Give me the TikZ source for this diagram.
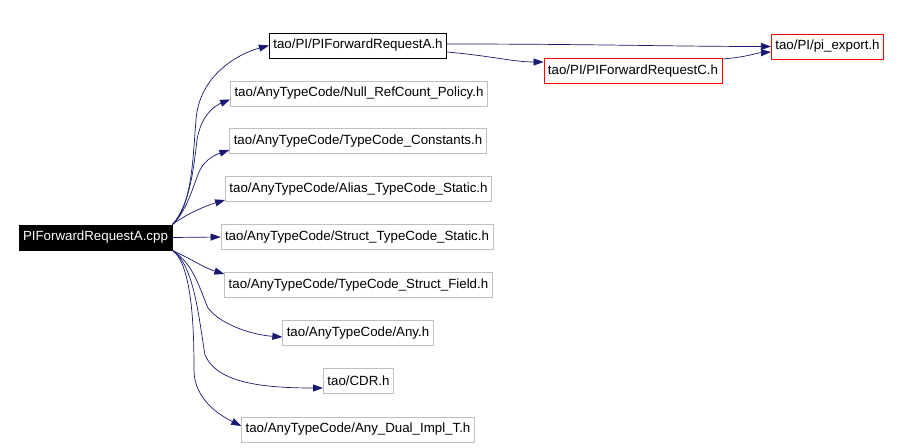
\documentclass[tikz,border=0pt]{standalone}
\usepackage{fontspec}
\setmainfont{Liberation Sans}
\usetikzlibrary{arrows.meta}

\definecolor{edgeblue}{RGB}{25,25,112}
\definecolor{boxgray}{RGB}{191,191,191}

\tikzset{
  file/.style={draw=boxgray, line width=0.8pt, minimum height=25pt, inner xsep=4pt,
    font=\fontsize{13.3}{15}\selectfont},
  hdr/.style={file, draw=black},
  missing/.style={file, draw=red},
  src/.style={file, draw=black, fill=black, text=white},
  dep/.style={draw=edgeblue, line width=0.7pt, -{Triangle[length=10pt,width=7pt]}},
}

\begin{document}
\begin{tikzpicture}[x=1pt, y=-1pt]
        \useasboundingbox (0,0) rectangle (902,447);

        \node[src] (main) at (95.5,237.5) {PIForwardRequestA.cpp};

        \node[hdr] (reqA) at (358,45.5) {tao/PI/PIForwardRequestA.h};
        \node[missing] (reqC) at (633,71) {tao/PI/PIForwardRequestC.h};
        \node[missing] (export) at (827.5,46.5) {tao/PI/pi\_export.h};

        \node[file] (nullref) at (359,93.5) {tao/AnyTypeCode/Null\_RefCount\_Policy.h};
        \node[file] (tcconst) at (358,141) {tao/AnyTypeCode/TypeCode\_Constants.h};
        \node[file] (alias) at (358.5,189) {tao/AnyTypeCode/Alias\_TypeCode\_Static.h};
        \node[file] (structtc) at (357,237) {tao/AnyTypeCode/Struct\_TypeCode\_Static.h};
        \node[file] (field) at (358.5,285) {tao/AnyTypeCode/TypeCode\_Struct\_Field.h};
        \node[file] (any) at (358,333) {tao/AnyTypeCode/Any.h};
        \node[file] (cdr) at (358.5,381) {tao/CDR.h};
        \node[file] (dual) at (358,429.5) {tao/AnyTypeCode/Any\_Dual\_Impl\_T.h};

        % upper fan
        \draw[dep] (main.north east) .. controls +(20,-18) and +(-3,35) .. (196,120)
            .. controls +(3,-45) and +(-30,8) .. (reqA.west);
        \draw[dep] (main.north east) .. controls +(18,-20) and +(-3,25) .. (197,140)
            .. controls +(4,-25) and +(-15,6) .. ([yshift=-6pt]nullref.west);
        \draw[dep] (main.north east) .. controls +(16,-15) and +(-6,12) .. (200,170)
            .. controls +(6,-12) and +(-12,4) .. ([yshift=-9pt]tcconst.west);
        \draw[dep] (main.north east) .. controls +(13,-10) and +(-20,6) .. ([yshift=-11pt]alias.west);
        \draw[dep] (main.east) -- (structtc.west);

        % lower fan
        \draw[dep] (main.south east) .. controls +(18,8) and +(-20,-6) .. ([yshift=11pt]field.west);
        \draw[dep] (main.south east) .. controls +(22,14) and +(-8,-18) .. (208,308)
            .. controls +(14,18) and +(-28,-2) .. ([yshift=-4pt]any.west);
        \draw[dep] (main.south east) .. controls +(22,14) and +(-6,-35) .. (205,355)
            .. controls +(12,28) and +(-60,0) .. ([yshift=-7pt]cdr.west);
        \draw[dep] (main.south east) .. controls +(20,14) and +(0,-40) .. (194,370)
            .. controls +(0,30) and +(-20,-10) .. ([yshift=3.5pt]dual.west);

        % PI headers
        \draw[dep] ([yshift=1.5pt]reqA.east) .. controls +(150,0) and +(-100,0) .. (export.west);
        \draw[dep] ([yshift=-6.5pt]reqA.east) .. controls +(45,4) and +(-30,0) .. ([yshift=9pt]reqC.west);
        \draw[dep] ([yshift=12pt]reqC.east) .. controls +(25,-2) and +(-15,1) .. ([yshift=-5.5pt]export.west);
    \end{tikzpicture}
\end{document}
